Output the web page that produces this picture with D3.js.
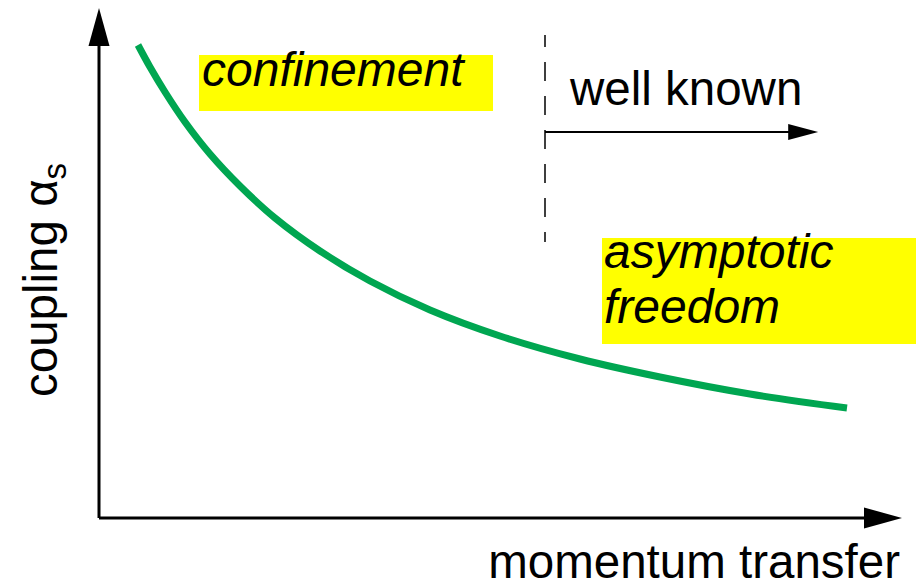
<!DOCTYPE html>
<html><head><meta charset="utf-8">
<script src="https://cdn.jsdelivr.net/npm/d3@7"></script>
<style>
html,body{margin:0;padding:0;background:#fff;}
svg{display:block;}
text{font-family:"Liberation Sans",Arial,Helvetica,sans-serif;}
</style></head>
<body>
<svg id="chart" width="919" height="588"></svg>
<script>
// Data (arbitrary units: momentum transfer 0-100, coupling 0-100)
const momentum = [4.875, 6.375, 8.25, 10.75, 13.875, 17.625, 22, 27.625, 33.875, 41.375, 50.125, 60.125, 70.125, 81.375, 93.5];
const coupling = [94.6, 90.2, 85.2, 79.2, 72.8, 66.4, 60, 53.4, 47.4, 41.6, 36.4, 31.8, 28.2, 24.8, 22];
const wellKnownFrom = 55.75;      // momentum where perturbative region starts
const wellKnownTo = 89.9;         // arrow end
const dashedRange = [96.6, 55.2]; // coupling extent of dashed marker
const xLabel = "momentum transfer";
const yLabel = "coupling ";
const annotations = ["confinement", "asymptotic", "freedom", "well known"];

const svg = d3.select("#chart");
const x = d3.scaleLinear().domain([0, 100]).range([99, 899]);
const y = d3.scaleLinear().domain([0, 100]).range([518, 18]);

const ink = "#000";
// Axes
svg.append("line").attr("x1", x(0)).attr("y1", y(0)).attr("x2", x(0)).attr("y2", 40)
  .attr("stroke", ink).attr("stroke-width", 3);
svg.append("path").attr("d", `M${x(0)},8 L${x(0)-10.5},46 L${x(0)+10.5},46 Z`).attr("fill", ink);
svg.append("line").attr("x1", x(0)).attr("y1", y(0)).attr("x2", 870).attr("y2", y(0))
  .attr("stroke", ink).attr("stroke-width", 3);
svg.append("path").attr("d", `M902,${y(0)} L864,${y(0)-10.5} L864,${y(0)+10.5} Z`).attr("fill", ink);

// Highlight boxes
svg.append("rect").attr("x", 199).attr("y", 55).attr("width", 294).attr("height", 56).attr("fill", "#ffff00");
svg.append("rect").attr("x", 602).attr("y", 238).attr("width", 314).attr("height", 106).attr("fill", "#ffff00");

// Dashed marker
svg.append("line").attr("x1", x(wellKnownFrom)).attr("x2", x(wellKnownFrom))
  .attr("y1", y(dashedRange[0])).attr("y2", y(dashedRange[1]))
  .attr("stroke", ink).attr("stroke-width", 1.5)
  .attr("stroke-dasharray", "19,15").attr("stroke-dashoffset", 7);

// Well-known arrow
const ay = 132;
svg.append("line").attr("x1", x(wellKnownFrom)).attr("x2", x(wellKnownTo) - 25).attr("y1", ay).attr("y2", ay)
  .attr("stroke", ink).attr("stroke-width", 2);
svg.append("path").attr("d", `M${x(wellKnownTo)},${ay} L${x(wellKnownTo)-30},${ay-8} L${x(wellKnownTo)-30},${ay+8} Z`).attr("fill", ink);

// Curve
const pts = momentum.map((m, i) => [x(m), y(coupling[i])]);
svg.append("path").attr("d", d3.line().curve(d3.curveCatmullRom.alpha(0.5))(pts))
  .attr("fill", "none").attr("stroke", "#00a651").attr("stroke-width", 7);

// Texts
const fs = 48;
svg.append("text").attr("x", 202).attr("y", 86).attr("font-size", fs).attr("font-style", "italic").text(annotations[0]);
svg.append("text").attr("x", 604).attr("y", 268).attr("font-size", fs).attr("font-style", "italic").text(annotations[1]);
svg.append("text").attr("x", 604).attr("y", 323).attr("font-size", fs).attr("font-style", "italic").text(annotations[2]);
svg.append("text").attr("x", 570).attr("y", 105).attr("font-size", 47.5).text(annotations[3]);
svg.append("text").attr("x", 900).attr("y", 578).attr("text-anchor", "end").attr("font-size", 47.5).text(xLabel);

const yl = svg.append("text").attr("transform", "translate(57,397) rotate(-90)").attr("font-size", 47.5);
yl.append("tspan").text(yLabel);
yl.append("tspan").text("α");
yl.append("tspan").attr("font-size", 33).attr("dy", 9).text("s");
</script>
</body></html>
